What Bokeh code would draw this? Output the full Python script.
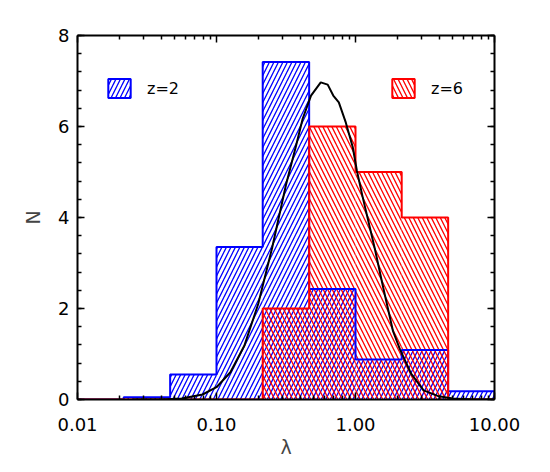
from bokeh.plotting import figure
from bokeh.models import (Range1d, LogAxis, LinearAxis, FixedTicker, NumeralTickFormatter,
                          Legend, LegendItem)
from bokeh.embed import file_html
from bokeh.resources import INLINE

# ---- data ----
bin_edges = [0.01, 0.0215, 0.0464, 0.1, 0.215, 0.464, 1.0, 2.15, 4.64, 10.0]
blue_counts = [0.0, 0.05, 0.55, 3.35, 7.42, 2.43, 0.88, 1.09, 0.18]   # z=2
red_counts = [0.0, 0.0, 0.0, 0.0, 2.0, 6.0, 5.0, 4.0, 0.0]          # z=6

curve_log_lambda = [-1.60, -1.40, -1.25, -1.10, -1.00, -0.90, -0.80, -0.70, -0.60, -0.50,
                    -0.43, -0.38, -0.32, -0.25, -0.20, -0.16, -0.12, -0.07, -0.02, 0.01,
                    0.05, 0.14, 0.20, 0.27, 0.32, 0.40, 0.49, 0.60, 0.70, 0.85, 1.00]
curve_n = [0.00, 0.00, 0.02, 0.11, 0.27, 0.60, 1.18, 2.10, 3.33, 4.72,
           5.55, 6.17, 6.68, 6.97, 6.92, 6.68, 6.53, 6.09, 5.55, 5.03,
           4.47, 3.30, 2.45, 1.50, 1.10, 0.57, 0.20, 0.07, 0.02, 0.00, 0.00]

x_ticks = [0.01, 0.1, 1.0, 10.0]
y_ticks = [0, 2, 4, 6, 8]
legend_labels = ["z=2", "z=6"]

FONT = "DejaVu Sans"


def step_outline(edges, heights):
    xs, ys = [edges[0]], [0.0]
    for i, h in enumerate(heights):
        xs += [edges[i], edges[i + 1]]
        ys += [h, h]
    xs.append(edges[-1])
    ys.append(0.0)
    return xs, ys


p = figure(width=540, height=466, x_axis_type="log",
           x_range=Range1d(0.01, 10), y_range=Range1d(0, 8),
           output_backend="svg", toolbar_location=None,
           min_border_left=77, min_border_right=46, min_border_top=35, min_border_bottom=67)
p.grid.visible = False
p.outline_line_color = None
p.background_fill_color = "white"

left = bin_edges[:-1]
right = bin_edges[1:]
zeros = [0.0] * len(left)

HS = 9
HW = 1.3
p.quad(left=left, right=right, top=blue_counts, bottom=zeros,
       fill_alpha=0, line_alpha=0, hatch_pattern="/", hatch_color="#0000ff",
       hatch_scale=HS, hatch_weight=HW)
p.quad(left=left, right=right, top=red_counts, bottom=zeros,
       fill_alpha=0, line_alpha=0, hatch_pattern="\\", hatch_color="#ff0000",
       hatch_scale=HS, hatch_weight=HW)

bx, by = step_outline(bin_edges, blue_counts)
rx, ry = step_outline(bin_edges, red_counts)
p.line(bx, by, line_color="#0000ff", line_width=2)
p.line(rx, ry, line_color="#ff0000", line_width=2)

curve_lambda = [10 ** v for v in curve_log_lambda]
p.line(curve_lambda, curve_n, line_color="black", line_width=2)

# hidden renderers used only for the legend swatches
blue_leg = p.quad(left=left, right=right, top=blue_counts, bottom=zeros, fill_alpha=0,
                  line_color="#0000ff", line_width=2, hatch_pattern="/",
                  hatch_color="#0000ff", hatch_scale=HS, hatch_weight=HW, visible=False)
red_leg = p.quad(left=left, right=right, top=red_counts, bottom=zeros, fill_alpha=0,
                 line_color="#ff0000", line_width=2, hatch_pattern="\\",
                 hatch_color="#ff0000", hatch_scale=HS, hatch_weight=HW, visible=False)

for label, rend, loc in [(legend_labels[0], blue_leg, (28, 299)),
                         (legend_labels[1], red_leg, (312, 299))]:
    leg = Legend(items=[LegendItem(label=label, renderers=[rend])], location=loc,
                 glyph_width=28, glyph_height=24, label_height=24, label_standoff=14,
                 label_text_font=FONT, label_text_font_size="16px", label_text_color="black",
                 padding=0, margin=0, spacing=0, border_line_alpha=0,
                 background_fill_alpha=0, click_policy="none",
                 inactive_fill_alpha=0)
    p.add_layout(leg)

x_minor = [m * d for d in [0.01, 0.1, 1.0] for m in range(2, 10)]
y_minor = [i * 0.4 for i in range(0, 21)]


def style_axis(ax, ticks, minor, show_labels):
    ax.ticker = FixedTicker(ticks=ticks, minor_ticks=minor)
    ax.axis_line_width = 2
    ax.axis_line_color = "black"
    ax.major_tick_in = 7
    ax.major_tick_out = 0
    ax.minor_tick_in = 4
    ax.minor_tick_out = 0
    ax.major_tick_line_width = 1.5
    ax.minor_tick_line_width = 1.5
    ax.major_label_text_font = FONT
    ax.major_label_text_color = "black"
    if show_labels:
        ax.major_label_text_font_size = "18px"
    else:
        ax.major_label_text_font_size = "1px"
        ax.major_label_text_alpha = 0
        ax.major_label_standoff = 0


xb = p.xaxis[0]
style_axis(xb, x_ticks, x_minor, True)
xb.formatter = NumeralTickFormatter(format="0.00")
xb.major_label_standoff = 18
xb.axis_label = "λ"
xb.axis_label_text_font = FONT
xb.axis_label_text_font_size = "19px"
xb.axis_label_text_font_style = "normal"
xb.axis_label_standoff = 2

yl = p.yaxis[0]
style_axis(yl, y_ticks, y_minor, True)
yl.major_label_standoff = 8
yl.axis_label = "N"
yl.axis_label_text_font = FONT
yl.axis_label_text_font_size = "19px"
yl.axis_label_text_font_style = "normal"
yl.axis_label_standoff = 11

xt = LogAxis()
style_axis(xt, x_ticks, x_minor, False)
p.add_layout(xt, "above")

yr = LinearAxis()
style_axis(yr, y_ticks, y_minor, False)
p.add_layout(yr, "right")

open("out.html", "w").write(file_html(p, INLINE))
